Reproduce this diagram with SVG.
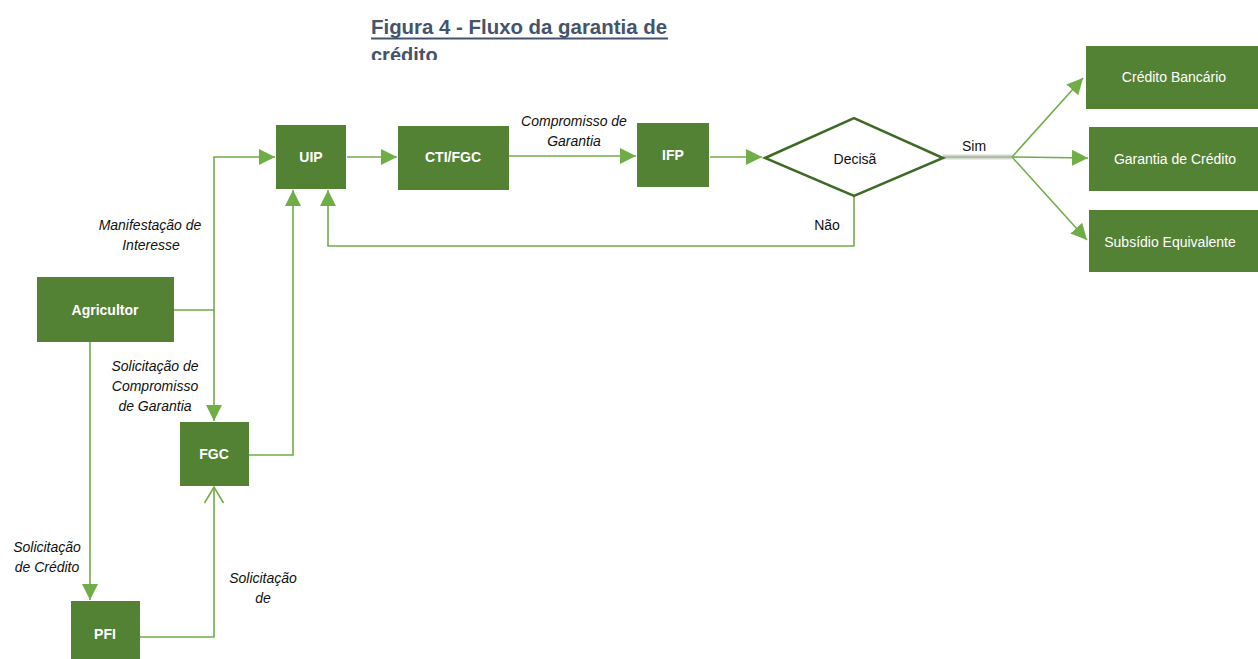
<svg xmlns="http://www.w3.org/2000/svg" width="1258" height="659" viewBox="0 0 1258 659">
<style>
.node{fill:#548235}
.nt{fill:#fff;font-family:"Liberation Sans",Arial,sans-serif;font-size:14px;font-weight:bold;text-anchor:middle}
.nr{fill:#fff;font-family:"Liberation Sans",Arial,sans-serif;font-size:14px;text-anchor:middle}
.ln{fill:none;stroke:#70AD47;stroke-width:1.6}
.lab{fill:#111;font-family:"Liberation Sans",Arial,sans-serif;font-size:14px;font-style:italic;text-anchor:middle}
.plain{fill:#111;font-family:"Liberation Sans",Arial,sans-serif;font-size:14px;text-anchor:middle}
.title{fill:#44546A;font-family:"Liberation Sans",Arial,sans-serif;font-size:20px;font-weight:bold}
.gap{fill:#f3f6f1}
</style>
<defs>
<marker id="ah" markerUnits="userSpaceOnUse" markerWidth="17" markerHeight="17" refX="16" refY="8" orient="auto">
<path d="M0,0 L16,8 L0,16 z" fill="#70AD47"/>
</marker>
<marker id="oh" markerUnits="userSpaceOnUse" markerWidth="20" markerHeight="22" refX="17" refY="10.5" orient="auto">
<path d="M1,1 L17,10.5 L1,20" fill="none" stroke="#70AD47" stroke-width="1.6"/>
</marker>
<clipPath id="tc"><rect x="360" y="0" width="330" height="60"/></clipPath>
</defs>
<rect width="1258" height="659" fill="#fff"/>
<g id="title" clip-path="url(#tc)">
<text class="title" x="371" y="34" textLength="296" lengthAdjust="spacingAndGlyphs">Figura 4 - Fluxo da garantia de</text>
<rect x="371" y="37.5" width="297" height="2" fill="#44546A"/>
<text class="title" x="371" y="62">crédito</text>
</g>
<g id="connectors">
<polyline class="ln" points="174,310 214,310 214,157 275,157" marker-end="url(#ah)"/>
<polyline class="ln" points="214,310 214,421" marker-end="url(#ah)"/>
<polyline class="ln" points="249,455 293,455 293,190" marker-end="url(#ah)"/>
<line class="ln" x1="347" y1="157" x2="397" y2="157" marker-end="url(#ah)"/>
<line class="ln" x1="509" y1="156" x2="636" y2="156" marker-end="url(#ah)"/>
<line class="ln" x1="710" y1="157" x2="762" y2="157" marker-end="url(#ah)"/>
<polyline class="ln" points="854,196 854,246 328,246 328,190" marker-end="url(#ah)"/>
<polyline class="ln" points="90,342 90,600" marker-end="url(#ah)"/>
<polyline class="ln" points="140,637 214,637 214,487" marker-end="url(#oh)"/>
<line x1="943" y1="157" x2="1012" y2="157" stroke="#d3d8cf" stroke-width="5"/>
<line x1="943" y1="157" x2="1012" y2="157" stroke="#a9b3a0" stroke-width="1.5"/>
<line class="ln" x1="1012" y1="157" x2="1083" y2="78" marker-end="url(#ah)"/>
<line class="ln" x1="1012" y1="157" x2="1088" y2="158" marker-end="url(#ah)"/>
<line class="ln" x1="1012" y1="157" x2="1087" y2="240" marker-end="url(#ah)"/>
</g>
<g id="labels">
<text class="lab" x="150" y="230">Manifestação de</text>
<text class="lab" x="151" y="250">Interesse</text>
<text class="lab" x="155" y="371">Solicitação de</text>
<text class="lab" x="155" y="391">Compromisso</text>
<text class="lab" x="155" y="411">de Garantia</text>
<text class="lab" x="574" y="126">Compromisso de</text>
<text class="lab" x="574" y="146">Garantia</text>
<text class="lab" x="47" y="552">Solicitação</text>
<text class="lab" x="47" y="572">de Crédito</text>
<text class="lab" x="263" y="583">Solicitação</text>
<text class="lab" x="263" y="603">de</text>
<text class="plain" x="974" y="151">Sim</text>
<text class="plain" x="827" y="230">Não</text>
</g>
<g id="n-uip"><rect class="node" x="276" y="125" width="70" height="64"/><text class="nt" x="311" y="162">UIP</text></g>
<g id="n-cti"><rect class="node" x="398" y="126" width="111" height="64"/><text class="nt" x="453" y="162">CTI/FGC</text></g>
<g id="n-ifp"><rect class="node" x="637" y="123" width="72" height="64"/><text class="nt" x="673" y="160">IFP</text></g>
<g id="n-dec"><polygon points="765,158 854,118 943,158 854,196" fill="#fff" stroke="#3D6B25" stroke-width="2.5"/><text class="plain" x="855" y="164">Decisã</text></g>
<g id="n-cb"><rect class="node" x="1086" y="46" width="172" height="63"/><text class="nr" x="1174" y="82">Crédito Bancário</text></g>
<g id="n-gc"><rect class="node" x="1089" y="127" width="169" height="64"/><text class="nr" x="1175" y="164">Garantia de Crédito</text></g>
<g id="n-se"><rect class="node" x="1089" y="210" width="169" height="62"/><text class="nr" x="1170" y="247">Subsídio Equivalente</text></g>
<g id="n-agr"><rect class="node" x="37" y="277" width="137" height="65"/><text class="nt" x="105" y="315">Agricultor</text></g>
<g id="n-fgc"><rect class="node" x="180" y="422" width="69" height="64"/><text class="nt" x="214" y="459">FGC</text></g>
<g id="n-pfi"><rect class="node" x="71" y="601" width="69" height="60"/><text class="nt" x="105" y="639">PFI</text></g>
</svg>
